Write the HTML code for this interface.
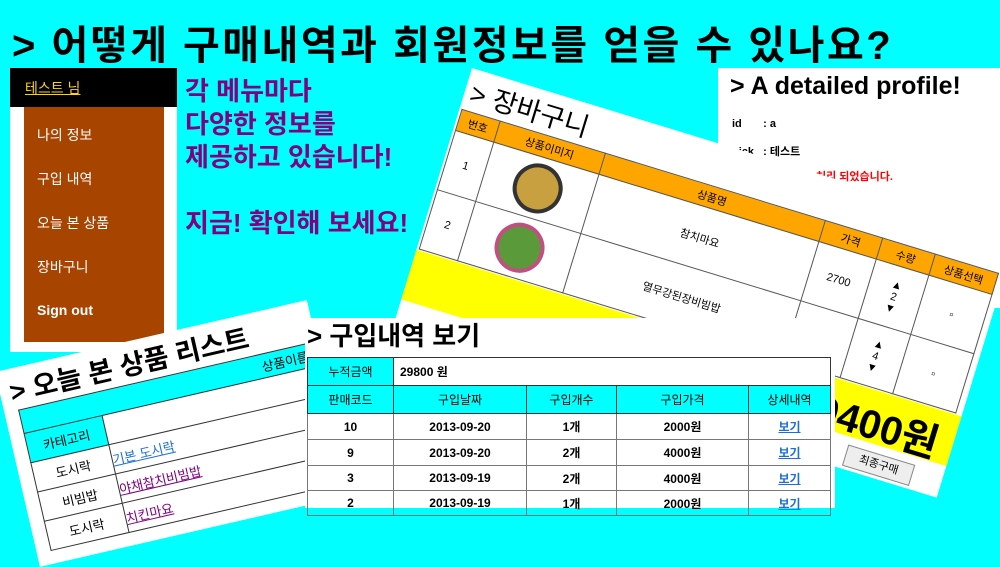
<!DOCTYPE html>
<html><head><meta charset="utf-8">
<style>
*{box-sizing:border-box;margin:0;padding:0}
body{width:1000px;height:500px;overflow:hidden;background:#00ffff;position:relative;font-family:"Liberation Sans","Noto Sans CJK KR",sans-serif}
.abs{position:absolute}
table{border-collapse:collapse}
</style></head><body>
<div class="abs" style="left:12px;top:13px;font-size:40px;font-weight:bold;color:#000;white-space:nowrap;letter-spacing:2.5px">&gt; 어떻게 구매내역과 회원정보를 얻을 수 있나요?</div>

<div class="abs" style="left:10px;top:68px;width:167px;height:284px;background:#fff">
  <div style="height:39px;background:#000;padding:10px 0 0 15px"><a style="color:#ffd700;text-decoration:underline;font-size:14px">테스트 님</a></div>
  <div style="position:absolute;left:14px;top:39px;width:140px;height:235px;background:#a64400;color:#fff;font-size:14px">
    <div class="abs" style="left:13px;top:18px">나의 정보</div>
    <div class="abs" style="left:13px;top:62px">구입 내역</div>
    <div class="abs" style="left:13px;top:106px">오늘 본 상품</div>
    <div class="abs" style="left:13px;top:150px">장바구니</div>
    <div class="abs" style="left:13px;top:195px;font-weight:bold">Sign out</div>
  </div>
</div>

<div class="abs" style="left:185px;top:75px;color:#800080;font-size:26px;font-weight:bold;line-height:33px;white-space:nowrap">각 메뉴마다<br>다양한 정보를<br>제공하고 있습니다!<br><br>지금! 확인해 보세요!</div>

<div class="abs" style="left:718px;top:68px;width:290px;height:240px;background:#fff;font-size:11px">
  <div style="position:absolute;left:12px;top:4px;font-size:25px;font-weight:bold;white-space:nowrap">&gt; A detailed profile!</div>
  <div class="abs" style="left:14px;top:50px;font-weight:bold">id&nbsp;&nbsp;&nbsp;&nbsp;&nbsp;&nbsp;&nbsp;: a</div>
  <div class="abs" style="left:14px;top:75px;font-weight:bold">nick&nbsp;&nbsp;&nbsp;: 테스트</div>
  <div class="abs" style="left:98px;top:100px;color:#f00;font-weight:bold">처리 되었습니다.</div>
</div>

<div class="abs" style="left:472px;top:68px;width:570px;height:275px;background:#fff;transform-origin:0 0;transform:rotate(17deg);font-size:11px">
  <div class="abs" style="left:6px;top:2px;font-size:27px">&gt; 장바구니</div>
  <table class="abs" style="left:2px;top:42px;width:562px;text-align:center">
    <tr style="background:#ffa500;height:22px"><td style="border:1px solid #555;width:40px">번호</td><td style="border:1px solid #555;width:110px">상품이미지</td><td style="border:1px solid #555;width:230px">상품명</td><td style="border:1px solid #555;width:60px">가격</td><td style="border:1px solid #555;width:55px">수량</td><td style="border:1px solid #555">상품선택</td></tr>
    <tr style="height:62px"><td style="border:1px solid #555">1</td><td style="border:1px solid #555"><div style="width:50px;height:50px;margin:auto;border-radius:50%;background:#c9a040;border:4px solid #333"></div></td><td style="border:1px solid #555">참치마요</td><td style="border:1px solid #555">2700</td><td style="border:1px solid #555">▲<br>2<br>▼</td><td style="border:1px solid #555">▫</td></tr>
    <tr style="height:62px"><td style="border:1px solid #555">2</td><td style="border:1px solid #555"><div style="width:50px;height:50px;margin:auto;border-radius:50%;background:#5a9a3a;border:4px solid #c05080"></div></td><td style="border:1px solid #555">열무강된장비빔밥</td><td style="border:1px solid #555">3400</td><td style="border:1px solid #555">▲<br>4<br>▼</td><td style="border:1px solid #555">▫</td></tr>
  </table>
  <div class="abs" style="left:0;top:190px;width:570px;height:52px;background:#ffff00"><span style="position:absolute;right:15px;top:2px;font-size:40px;font-weight:bold">29400원</span></div>
  <div class="abs" style="left:470px;top:250px;width:70px;height:22px;border:1px solid #888;background:#eee;text-align:center;line-height:20px">최종구매</div>
</div>

<div class="abs" style="left:-5px;top:372px;width:320px;height:200px;background:#fff;transform-origin:0 0;transform:rotate(-13deg);font-size:13px">
  <div class="abs" style="left:10px;top:2px;font-size:27px;font-weight:bold;white-space:nowrap">&gt; 오늘 본 상품 리스트</div>
  <table class="abs" style="left:14px;top:42px;width:310px">
    <tr style="height:24px"><td colspan="2" style="background:#0ff;border:1px solid #333;text-align:right;padding-right:14px">상품이름</td></tr>
    <tr style="height:30px"><td style="background:#0ff;border:1px solid #333;width:80px;text-align:center">카테고리</td><td style="border:1px solid #333;background:#fff"></td></tr>
    <tr style="height:30px"><td style="border:1px solid #333;text-align:center">도시락</td><td style="border:1px solid #333"><a style="color:#1a6fd8;text-decoration:underline">기본 도시락</a></td></tr>
    <tr style="height:30px"><td style="border:1px solid #333;text-align:center">비빔밥</td><td style="border:1px solid #333"><a style="color:#800080;text-decoration:underline">야채참치비빔밥</a></td></tr>
    <tr style="height:30px"><td style="border:1px solid #333;text-align:center">도시락</td><td style="border:1px solid #333"><a style="color:#800080;text-decoration:underline">치킨마요</a></td></tr>
  </table>
</div>

<div class="abs" style="left:305px;top:318px;width:530px;height:190px;background:#fff;font-size:12px">
  <div class="abs" style="left:2px;top:-2px;font-size:26px;font-weight:bold">&gt; 구입내역 보기</div>
  <table class="abs" style="left:2px;top:39px;width:524px;text-align:center;font-weight:bold">
    <tr style="height:28px"><td style="background:#0ff;border:1px solid #333;width:86px;font-weight:normal">누적금액</td><td colspan="4" style="border:1px solid #333;text-align:left;padding-left:6px">29800 원</td></tr>
    <tr style="height:28px;background:#0ff;font-weight:normal"><td style="border:1px solid #333">판매코드</td><td style="border:1px solid #333;width:133px">구입날짜</td><td style="border:1px solid #333;width:90px">구입개수</td><td style="border:1px solid #333;width:132px">구입가격</td><td style="border:1px solid #333">상세내역</td></tr>
    <tr style="height:26px"><td style="border:1px solid #777">10</td><td style="border:1px solid #777">2013-09-20</td><td style="border:1px solid #777">1개</td><td style="border:1px solid #777">2000원</td><td style="border:1px solid #777"><a style="color:#1a6fd8;text-decoration:underline">보기</a></td></tr>
    <tr style="height:26px"><td style="border:1px solid #777">9</td><td style="border:1px solid #777">2013-09-20</td><td style="border:1px solid #777">2개</td><td style="border:1px solid #777">4000원</td><td style="border:1px solid #777"><a style="color:#1a6fd8;text-decoration:underline">보기</a></td></tr>
    <tr style="height:25px"><td style="border:1px solid #777">3</td><td style="border:1px solid #777">2013-09-19</td><td style="border:1px solid #777">2개</td><td style="border:1px solid #777">4000원</td><td style="border:1px solid #777"><a style="color:#1a6fd8;text-decoration:underline">보기</a></td></tr>
    <tr style="height:25px"><td style="border:1px solid #777">2</td><td style="border:1px solid #777">2013-09-19</td><td style="border:1px solid #777">1개</td><td style="border:1px solid #777">2000원</td><td style="border:1px solid #777"><a style="color:#1a6fd8;text-decoration:underline">보기</a></td></tr>
  </table>
</div>
</body></html>
